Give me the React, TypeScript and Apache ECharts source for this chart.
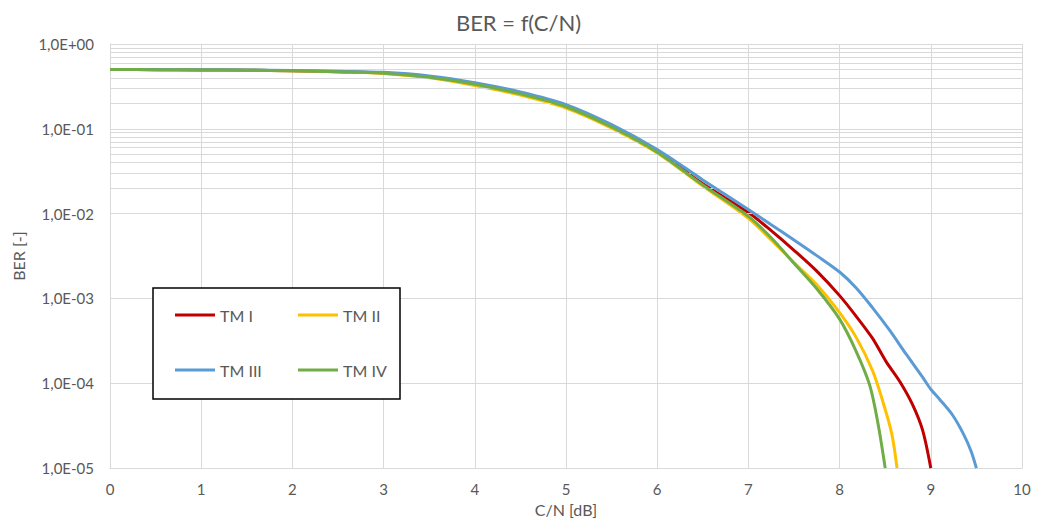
import React, { useEffect, useRef } from "react";
import * as echarts from "echarts";

const chartTitle = "BER = f(C/N)";
const xAxisName = "C/N [dB]";
const yAxisName = "BER [-]";
const seriesNames = ["TM I", "TM II", "TM III", "TM IV"];
const seriesColors = ["#C00000", "#FFC000", "#5B9BD5", "#70AD47"];

const tmIx = [0, 0.5, 1, 1.5, 2, 2.5, 3, 3.5, 4, 4.5, 5, 5.5, 6, 6.5, 7, 7.25, 7.5, 7.75, 8.0, 8.18, 8.36, 8.51, 8.66, 8.8, 8.91, 9.0];
const tmIy = [0.5, 0.498, 0.495, 0.49, 0.484, 0.472, 0.455, 0.41, 0.34, 0.262, 0.185, 0.106, 0.054, 0.0225, 0.0103, 0.0063, 0.0037, 0.0021, 0.00108, 0.00062, 0.00034, 0.00018, 0.000105, 0.000056, 0.000028, 0.00001];

const tmIIx = [0, 0.5, 1, 1.5, 2, 2.5, 3, 3.5, 4, 4.5, 5, 5.5, 6, 6.5, 7, 7.25, 7.5, 7.75, 8.0, 8.18, 8.36, 8.47, 8.57, 8.63];
const tmIIy = [0.5, 0.498, 0.495, 0.49, 0.483, 0.47, 0.45, 0.4, 0.325, 0.25, 0.176, 0.102, 0.052, 0.0212, 0.0088, 0.0049, 0.00265, 0.00145, 0.00068, 0.00035, 0.000142, 0.000063, 0.000026, 0.00001];

const tmIIIx = [0, 0.5, 1, 1.5, 2, 2.5, 3, 3.5, 4, 4.5, 5, 5.5, 6, 6.5, 7, 7.25, 7.5, 7.75, 8.0, 8.18, 8.36, 8.55, 8.73, 8.91, 9.0, 9.1, 9.24, 9.36, 9.44, 9.5];
const tmIIIy = [0.5, 0.499, 0.497, 0.494, 0.488, 0.478, 0.463, 0.42, 0.35, 0.272, 0.193, 0.112, 0.057, 0.025, 0.0112, 0.0074, 0.0049, 0.0032, 0.00205, 0.00134, 0.00078, 0.00042, 0.00022, 0.000118, 0.000085, 0.000064, 0.000042, 0.000025, 0.000016, 0.00001];

const tmIVx = [0, 0.5, 1, 1.5, 2, 2.5, 3, 3.5, 4, 4.5, 5, 5.5, 6, 6.5, 7, 7.25, 7.5, 7.75, 8.0, 8.18, 8.33, 8.42, 8.5];
const tmIVy = [0.5, 0.498, 0.495, 0.49, 0.483, 0.47, 0.452, 0.405, 0.335, 0.258, 0.182, 0.105, 0.053, 0.0218, 0.0093, 0.0052, 0.0026, 0.0013, 0.00057, 0.00024, 0.000095, 0.000034, 0.00001];

const decadeExponents = [-5, -4, -3, -2, -1];
const minorMultipliers = [2, 3, 4, 5, 6, 7, 8, 9];

const FONT = "Lato";
const TEXT = "#595959";
const GRID = "#d9d9d9";

function zip(xs: number[], ys: number[]) {
  return xs.map((x, i) => [x, ys[i]]);
}

function fmtExp(v: number) {
  const e = Math.round(Math.log10(v));
  const sign = e < 0 ? "-" : "+";
  const a = Math.abs(e);
  return "1,0E" + sign + (a < 10 ? "0" + a : String(a));
}

export default function App() {
  const ref = useRef<HTMLDivElement>(null);
  useEffect(() => {
    document.body.style.margin = "0";
    const chart = echarts.init(ref.current!, null, { renderer: "svg" });
    const datasets = [zip(tmIx, tmIy), zip(tmIIx, tmIIy), zip(tmIIIx, tmIIIy), zip(tmIVx, tmIVy)];
    const minorLines: any[] = [];
    decadeExponents.forEach((e) => {
      minorMultipliers.forEach((m) => {
        minorLines.push({ yAxis: m * Math.pow(10, e) });
      });
    });
    const legendPos = [
      { left: 175, top: 307 },
      { left: 298, top: 307 },
      { left: 175, top: 362 },
      { left: 298, top: 362 },
    ];
    chart.setOption({
      animation: false,
      title: {
        text: chartTitle,
        left: "center",
        top: 6,
        textStyle: { fontFamily: FONT, fontSize: 22, fontWeight: "normal", color: TEXT },
      },
      grid: { left: 110, right: 15, top: 44, bottom: 50 },
      xAxis: {
        type: "value",
        min: 0,
        max: 10,
        interval: 1,
        name: xAxisName,
        nameLocation: "middle",
        nameGap: 32,
        nameTextStyle: { fontFamily: FONT, fontSize: 16, color: TEXT },
        axisLine: { show: true, lineStyle: { color: GRID, width: 1 } },
        axisTick: { show: false },
        axisLabel: { fontFamily: FONT, fontSize: 15, color: TEXT, margin: 13 },
        splitLine: { show: true, lineStyle: { color: GRID, width: 1 } },
      },
      yAxis: {
        type: "log",
        logBase: 10,
        min: 0.00001,
        max: 1,
        name: yAxisName,
        nameLocation: "middle",
        nameGap: 84,
        nameTextStyle: { fontFamily: FONT, fontSize: 16, color: TEXT },
        axisLine: { show: true, lineStyle: { color: GRID, width: 1 } },
        axisTick: { show: false },
        axisLabel: { fontFamily: FONT, fontSize: 15, color: TEXT, margin: 16, formatter: (v: number) => fmtExp(v) },
        splitLine: { show: true, lineStyle: { color: GRID, width: 1 } },
      },
      graphic: [
        {
          type: "rect",
          z: 50,
          shape: { x: 153, y: 288, width: 247, height: 111 },
          style: { fill: "#ffffff", stroke: "#000000", lineWidth: 1.5 },
        },
      ],
      legend: seriesNames.map((n, i) => ({
        data: [n],
        left: legendPos[i].left,
        top: legendPos[i].top,
        z: 60,
        padding: 0,
        icon: "rect",
        itemWidth: 40,
        itemHeight: 3,
        itemGap: 4,
        textStyle: { fontFamily: FONT, fontSize: 16, color: TEXT },
        selectedMode: false,
      })),
      series: [
        {
          type: "line",
          name: "minor-grid",
          data: [],
          silent: true,
          z: 1,
          markLine: {
            silent: true,
            symbol: ["none", "none"],
            label: { show: false },
            lineStyle: { color: GRID, width: 1, type: "solid" },
            emphasis: { disabled: true },
            data: minorLines,
          },
        },
        ...seriesNames.map((n, i) => ({
          type: "line",
          name: n,
          data: datasets[i],
          smooth: 0.3,
          showSymbol: false,
          symbol: "none",
          z: 3 + i,
          lineStyle: { color: seriesColors[i], width: 3 },
          itemStyle: { color: seriesColors[i] },
          emphasis: { disabled: true },
        })),
      ],
    });
    return () => chart.dispose();
  }, []);
  return <div ref={ref} style={{ width: 1037, height: 522 }} />;
}
